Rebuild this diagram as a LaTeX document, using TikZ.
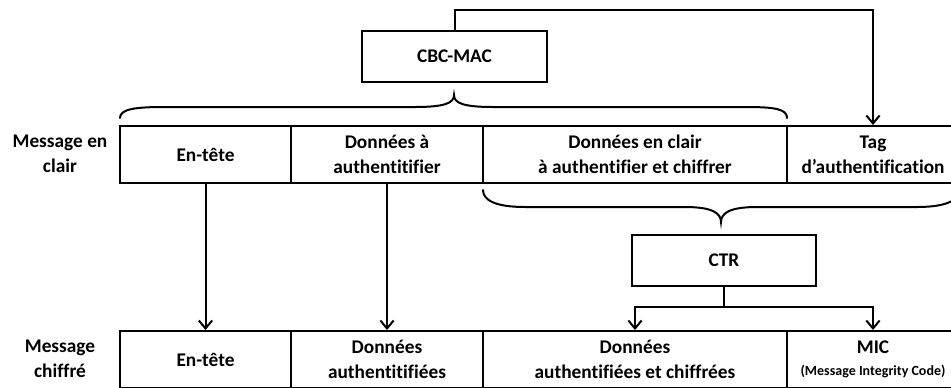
\documentclass[tikz,border=0pt]{standalone}
\usepackage{fontspec}
\setmainfont{Carlito}[Ligatures=NoCommon]
\usetikzlibrary{fit,arrows.meta}
\begin{document}
\begin{tikzpicture}[x=0.75pt,y=-0.75pt,
  line width=1.5pt,
  cell/.style={draw,inner sep=0pt},
  lbl/.style={align=center,inner sep=0pt,font=\fontsize{14.5}{18.5}\selectfont\bfseries},
  arr/.style={-{Straight Barb[length=6pt,width=10pt,line width=1.5pt]}},
  brace/.style={line width=1.5pt,line cap=round}]
\clip (0,0) rectangle (951,387);
% top row
\node[cell,fit={(120,126) (291,183)}] (h1) {};
\node[cell,fit={(291,126) (483,183)}] (h2) {};
\node[cell,fit={(483,126) (787,183)}] (h3) {};
\node[cell,fit={(787,126) (959,183)}] (h4) {};
\node[lbl] (t1) at (h1.center) {En-tête};
\node[lbl] (t2) at (h2.center) {Données à\\authentitifier};
\node[lbl] (t3) at (h3.center) {Données en clair\\à authentifier et chiffrer};
\node[lbl] (t4) at (h4.center) {Tag\\d’authentification};
% bottom row
\node[cell,fit={(120,331) (291,388)}] (b1) {};
\node[cell,fit={(291,331) (483,388)}] (b2) {};
\node[cell,fit={(483,331) (787,388)}] (b3) {};
\node[cell,fit={(787,331) (959,388)}] (b4) {};
\node[lbl] (u1) at (b1.center) {En-tête};
\node[lbl] (u2) at (b2.center) {Données\\authentitifiées};
\node[lbl] (u3) at (b3.center) {Données\\authentifiées et chiffrées};
\node[lbl] (u4) at (b4.center) {MIC\\[-2pt]{\fontsize{10.5}{13}\selectfont (Message Integrity Code)}};
% labels
\node[lbl] (l1) at (60,154) {Message en\\clair};
\node[lbl] (l2) at (60,359) {Message\\chiffré};
% processes
\node[cell,fit={(362,31) (547,82)}] (cbc) {};
\node[lbl] (tc) at (cbc.center) {CBC-MAC};
\node[cell,fit={(632,235) (816,286)}] (ctr) {};
\node[lbl] (tr) at (ctr.center) {CTR};
% braces
\draw[brace] (120,118) .. controls (120,109) and (135,107) .. (165,107) -- (415,107)
  .. controls (445,107) and (454,103) .. (454,95)
  .. controls (454,103) and (463,107) .. (493,107) -- (745,107)
  .. controls (775,107) and (787,109) .. (787,118);
\draw[brace] (483,190) .. controls (483,200) and (495,207) .. (525,207) -- (685,207)
  .. controls (712,207) and (721,213) .. (721,222)
  .. controls (721,213) and (730,207) .. (757,207) -- (917,207)
  .. controls (947,207) and (959,200) .. (959,190);
% connectors
\coordinate (topc) at (873,10);
\draw[arr] (cbc.north) |- (topc) -- (h4.north);
\draw[arr] (h1.south) -- (b1.north);
\draw[arr] (h2.south) -- (b2.north);
\coordinate (split) at (724,307);
\draw (ctr.south) -- (split);
\draw[arr] (split) -| (b3.north);
\draw[arr] (split) -| (b4.north);
\end{tikzpicture}
\end{document}
